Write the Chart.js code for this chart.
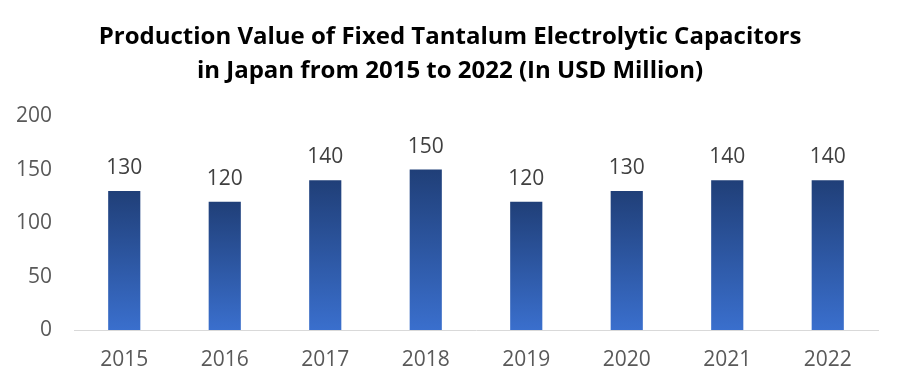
<!DOCTYPE html>
<html>
<head>
    <title>Tantalum Capacitors</title>
    <script src="https://cdn.jsdelivr.net/npm/chart.js"></script>
    <style>
        body { margin: 0; background: #fff; }
    </style>
</head>
<body>
    <canvas id="chart" width="900" height="390"></canvas>

    <script>
        const years = ['2015', '2016', '2017', '2018', '2019', '2020', '2021', '2022'];
        const values = [130, 120, 140, 150, 120, 130, 140, 140];
        const yTicks = [0, 50, 100, 150, 200];

        const fontFamily = "'Open Sans', 'Noto Sans', sans-serif";

        // gradient per bar, dark at the top, lighter at the base
        function barGradient(context) {
            const chart = context.chart;
            if (!chart.chartArea || context.parsed === undefined) return '#2f5597';
            const yScale = chart.scales.y;
            const top = yScale.getPixelForValue(context.parsed.y);
            const bottom = yScale.getPixelForValue(0);
            const g = chart.ctx.createLinearGradient(0, top, 0, bottom);
            g.addColorStop(0, '#203f78');
            g.addColorStop(1, '#3a6fcd');
            return g;
        }

        const valueLabels = {
            id: 'valueLabels',
            afterDatasetsDraw(chart) {
                const ctx = chart.ctx;
                const meta = chart.getDatasetMeta(0);
                ctx.save();
                ctx.font = '21px ' + fontFamily;
                ctx.fillStyle = '#404040';
                ctx.textAlign = 'center';
                ctx.textBaseline = 'middle';
                meta.data.forEach((bar, i) => {
                    ctx.fillText(values[i], bar.x, bar.y - 23);
                });
                ctx.restore();
            }
        };

        new Chart(document.getElementById('chart'), {
            type: 'bar',
            data: {
                labels: years,
                datasets: [{
                    data: values,
                    backgroundColor: barGradient,
                    barPercentage: 0.32,
                    categoryPercentage: 1
                }]
            },
            options: {
                responsive: false,
                animation: false,
                plugins: {
                    legend: { display: false },
                    tooltip: { enabled: false },
                    title: {
                        display: true,
                        text: ['Production Value of Fixed Tantalum Electrolytic Capacitors', 'in Japan from 2015 to 2022 (In USD Million)'],
                        color: '#000',
                        font: { family: fontFamily, size: 24, weight: 'bold', lineHeight: 1.42 },
                        padding: { top: 20, bottom: 28 }
                    }
                },
                scales: {
                    x: {
                        grid: { display: false, drawTicks: false },
                        border: { display: true, color: '#d9d9d9', width: 1 },
                        ticks: { color: '#595959', font: { family: fontFamily, size: 21 }, padding: 17 },
                        afterFit(scale) { scale.height = 60; }
                    },
                    y: {
                        min: 0,
                        max: 200,
                        afterBuildTicks(scale) { scale.ticks = yTicks.map(v => ({ value: v })); },
                        grid: { display: false, drawTicks: false },
                        border: { display: false },
                        ticks: { color: '#595959', font: { family: fontFamily, size: 21 }, padding: 22 },
                        afterFit(scale) { scale.width = 74; }
                    },
                    // empty right axis, only keeps the right margin so the title stays centred
                    yRight: {
                        position: 'right',
                        grid: { display: false, drawTicks: false },
                        border: { display: false },
                        ticks: { display: false },
                        afterFit(scale) { scale.width = 22; }
                    }
                }
            },
            plugins: [valueLabels]
        });
    </script>
</body>
</html>
